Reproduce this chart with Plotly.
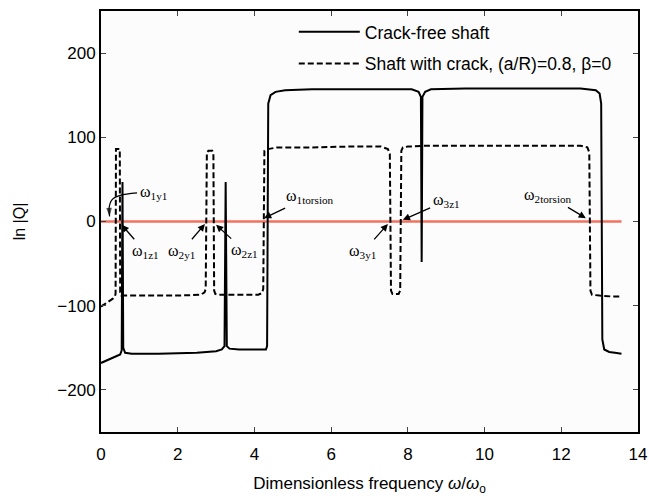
import plotly.graph_objects as go

# ---- data ----
free_x = [0.0, 0.1, 0.2, 0.3, 0.4, 0.5, 0.54, 0.56, 0.58, 0.63, 0.8, 1.5, 2.5, 3.0, 3.15, 3.22, 3.25, 3.28, 3.35, 3.6, 4.0, 4.3,
          4.33, 4.36, 4.42, 4.55, 4.8, 5.5, 6.5, 7.5, 8.1, 8.28, 8.34, 8.36, 8.38, 8.45, 8.6, 9.5, 10.5, 11.5, 12.5,
          12.9, 13.0, 13.04, 13.07, 13.12, 13.25, 13.4, 13.57]
free_y = [-168, -166, -164, -162, -160, -158, -153, 47, -150, -156, -157, -157, -156, -154, -152, -148, 47, -148, -151, -152, -152, -152,
          -148, 140, 150, 154, 156, 157, 157, 157, 157, 154, 148, -48, 148, 154, 157, 158, 158, 158, 158,
          156, 152, 140, -140, -152, -155, -156, -157]

crack_x = [0.0, 0.1, 0.2, 0.3, 0.36, 0.38, 0.39, 0.49, 0.5, 0.53, 0.6, 1.0, 2.0, 2.6, 2.7, 2.73, 2.76, 2.8, 2.9, 2.93, 2.95, 2.98,
           3.05, 3.5, 4.1, 4.2, 4.23, 4.26, 4.35, 4.6, 5.5, 6.5, 7.3, 7.48, 7.53, 7.56, 7.6, 7.76, 7.8, 7.83, 7.87, 8.0,
           8.5, 9.5, 10.5, 11.5, 12.5, 12.68, 12.73, 12.76, 12.8, 13.0, 13.3, 13.57]
crack_y = [-101, -98, -95, -92, -89, -86, 86, 86, -84, -88, -88, -88, -88, -87, -84, -80, 82, 84, 84, 80, -82, -86,
           -87, -87, -87, -85, -80, 84, 86, 88, 88, 89, 89, 86, 80, -82, -86, -86, -82, 84, 88, 89,
           90, 90, 90, 90, 90, 88, 82, -82, -87, -88, -89, -89]

ref_x = [0.0, 13.57]
ref_y = [0, 0]

x_ticks = [0, 2, 4, 6, 8, 10, 12, 14]
y_ticks = [-200, -100, 0, 100, 200]

fig = go.Figure()

fig.add_trace(go.Scatter(x=ref_x, y=ref_y, mode="lines",
                         line=dict(color="#f2725f", width=2.5), showlegend=False, hoverinfo="skip"))
fig.add_trace(go.Scatter(x=free_x, y=free_y, mode="lines", name="Crack-free shaft", legendgroup="a",
                         line=dict(color="black", width=2)))
fig.add_trace(go.Scatter(x=crack_x, y=crack_y, mode="lines", name="Shaft with crack, (a/R)=0.8, β=0",
                         legendgroup="b", line=dict(color="black", width=2, dash="6px,3px")))

# curved pointer for the omega_1y1 label
fig.add_trace(go.Scatter(x=[0.94, 0.5, 0.29, 0.21, 0.225], y=[34, 31, 26, 16, 6], mode="lines+markers",
                         line=dict(color="black", width=1.2, shape="spline"),
                         marker=dict(symbol="arrow", size=[0, 0, 0, 0, 9], angleref="previous", color="black",
                                     line=dict(width=0)),
                         showlegend=False, hoverinfo="skip"))

serif = "Liberation Serif, Times New Roman, serif"
# label text, label centre (x, y), arrow tip (x, y) or None
labels = [
    ("ω<sub>1y1</sub>", 1.37, 34, None),
    ("ω<sub>1z1</sub>", 1.15, -36, (0.54, -4)),
    ("ω<sub>2y1</sub>", 2.09, -36, (2.71, -3)),
    ("ω<sub>2z1</sub>", 3.75, -35, (3.0, -4)),
    ("ω<sub>1torsion</sub>", 5.45, 30, (4.25, 4)),
    ("ω<sub>3y1</sub>", 6.83, -36, (7.48, -3)),
    ("ω<sub>3z1</sub>", 9.02, 25, (7.87, 2)),
    ("ω<sub>2torsion</sub>", 11.65, 31, (12.64, 4)),
]
annotations = []
for t, lx, ly, tip in labels:
    a = dict(text=t, xref="x", yref="y", font=dict(family=serif, size=16, color="black"))
    if tip is None:
        a.update(x=lx, y=ly, showarrow=False)
    else:
        a.update(x=tip[0], y=tip[1], ax=lx, ay=ly, axref="x", ayref="y", showarrow=True,
                 arrowhead=2, arrowsize=1.1, arrowwidth=1.3, arrowcolor="black", standoff=0, startstandoff=2)
    annotations.append(a)

sans = "Liberation Sans, Arial, sans-serif"
fig.update_layout(
    width=649, height=500,
    margin=dict(l=101, r=11, t=11, b=68),
    paper_bgcolor="white", plot_bgcolor="#fcfcfc",
    font=dict(family=sans, size=16, color="black"),
    annotations=annotations,
    legend=dict(x=0.359, y=0.993, xanchor="left", yanchor="top", bgcolor="rgba(0,0,0,0)",
                font=dict(family=sans, size=17.5), itemwidth=61, traceorder="grouped", tracegroupgap=6),
    xaxis=dict(range=[0, 14], tickvals=x_ticks, ticks="inside", ticklen=5, tickwidth=1,
               showline=True, linewidth=2, linecolor="black", mirror="ticks", showgrid=False, zeroline=False,
               ticklabelstandoff=6,
               title=dict(text="Dimensionless frequency <i>ω</i>/<i>ω</i><sub>o</sub>", standoff=14,
                          font=dict(size=17)),
               automargin=False, tickfont=dict(size=17)),
    yaxis=dict(range=[-250, 250], tickvals=y_ticks, ticks="inside", ticklen=5, tickwidth=1,
               showline=True, linewidth=2, linecolor="black", mirror="ticks", showgrid=False, zeroline=False,
               title=dict(text="ln |Q|", standoff=28, font=dict(size=16)),
               automargin=False, tickfont=dict(size=17)),
)

fig.write_html("out.html")
